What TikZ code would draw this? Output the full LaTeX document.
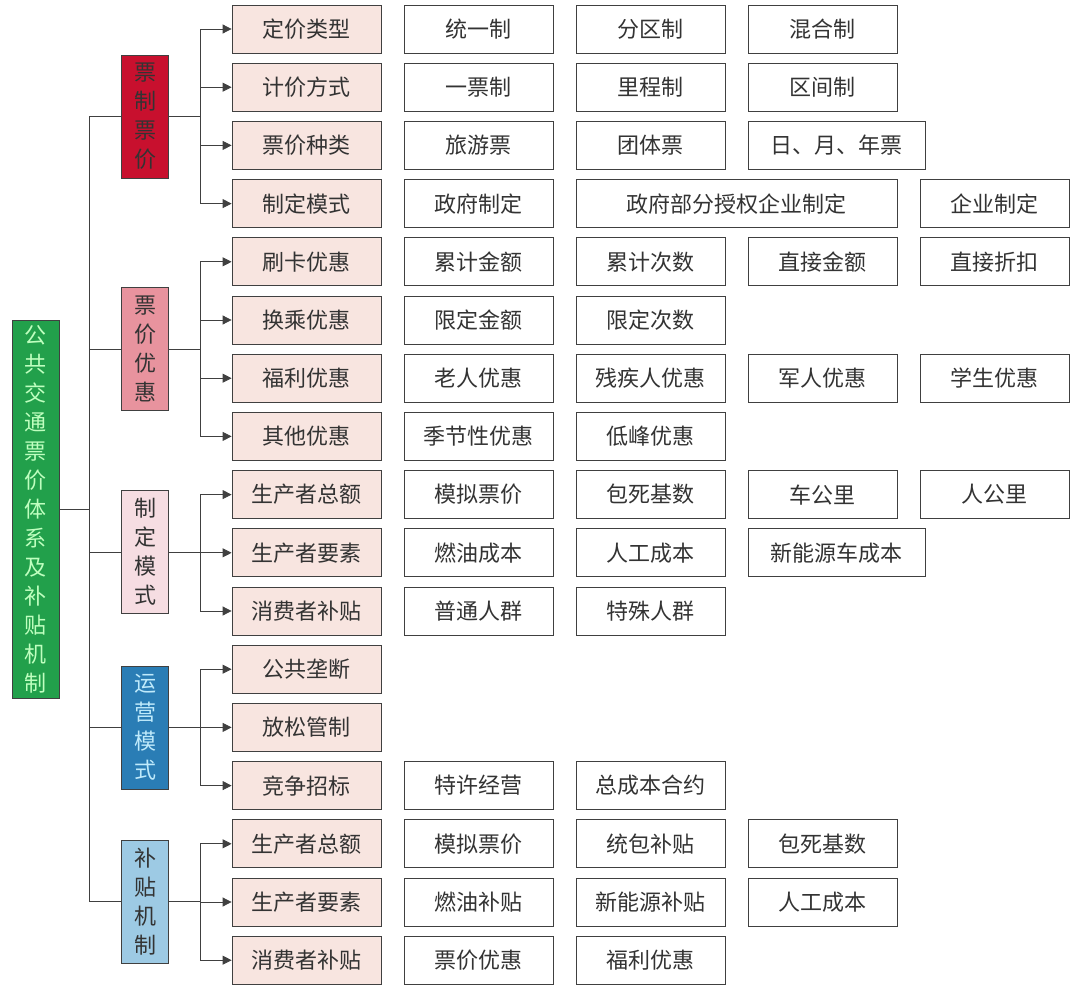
\documentclass[tikz,border=0pt]{standalone}
\usepackage{fontspec}
\setmainfont{Noto Sans CJK SC}
\usetikzlibrary{arrows.meta,positioning,calc}
\definecolor{cRoot}{HTML}{22A04B}
\definecolor{cRed}{HTML}{C8102E}
\definecolor{cPink}{HTML}{E8939E}
\definecolor{cLPink}{HTML}{F6DDE2}
\definecolor{cBlue}{HTML}{2A7DB5}
\definecolor{cLBlue}{HTML}{9DCAE4}
\definecolor{cItem}{HTML}{F8E5E0}
\tikzset{
  >=Triangle,
  every node/.append style={font=\fontsize{22}{29}\selectfont, text=black!80},
}
\begin{document}
\begin{tikzpicture}[
  x=1pt, y=-1pt,
  vbox/.style ={draw=black!75, line width=0.8pt, align=center, inner sep=0pt, minimum width=47pt},
  item/.style ={draw=black!75, fill=cItem, line width=0.8pt, minimum width=149pt, minimum height=48pt, inner sep=0pt},
  leaf/.style ={draw=black!75, fill=white, line width=0.8pt, minimum height=48pt, inner sep=0pt},
  link/.style ={draw=black!75, line width=0.8pt},
  arrow/.style={link, -{Triangle[length=9pt,width=9pt]}}
]
\useasboundingbox (0,0) rectangle (1080,993);

% root
\node[vbox, fill=cRoot, text=green!25, minimum height=378pt] (root) at (35.5,509)
  {公\\共\\交\\通\\票\\价\\体\\系\\及\\补\\贴\\机\\制};

% level one
\node[vbox, fill=cRed,   minimum height=123pt] (gPrice) at (145,116.5) {票\\制\\票\\价};
\node[vbox, fill=cPink,  minimum height=123pt] (gDisc)  at (145,349)   {票\\价\\优\\惠};
\node[vbox, fill=cLPink, minimum height=123pt] (gMode)  at (145,552)   {制\\定\\模\\式};
\node[vbox, fill=cBlue, text=cyan!25, minimum height=123pt] (gOper) at (145,727.5) {运\\营\\模\\式};
\node[vbox, fill=cLBlue, minimum height=123pt] (gSubs)  at (145,901.5) {补\\贴\\机\\制};

% level two
\foreach \i/\t in {0/定价类型, 1/计价方式, 2/票价种类, 3/制定模式,
                   4/刷卡优惠, 5/换乘优惠, 6/福利优惠, 7/其他优惠,
                   8/生产者总额, 9/生产者要素, 10/消费者补贴,
                   11/公共垄断, 12/放松管制, 13/竞争招标,
                   14/生产者总额, 15/生产者要素, 16/消费者补贴}{
  \node[item] (r\i) at (306.5,29+58.2*\i) {\t};
}

% level three
\foreach \i/\a/\b/\t [count=\n] in {
  0/404/553/统一制, 0/576/725/分区制, 0/748/897/混合制,
  1/404/553/一票制, 1/576/725/里程制, 1/748/897/区间制,
  2/404/553/旅游票, 2/576/725/团体票, 2/748/925/日、月、年票,
  3/404/553/政府制定, 3/576/897/政府部分授权企业制定, 3/920/1069/企业制定,
  4/404/553/累计金额, 4/576/725/累计次数, 4/748/897/直接金额, 4/920/1069/直接折扣,
  5/404/553/限定金额, 5/576/725/限定次数,
  6/404/553/老人优惠, 6/576/725/残疾人优惠, 6/748/897/军人优惠, 6/920/1069/学生优惠,
  7/404/553/季节性优惠, 7/576/725/低峰优惠,
  8/404/553/模拟票价, 8/576/725/包死基数, 8/748/897/车公里, 8/920/1069/人公里,
  9/404/553/燃油成本, 9/576/725/人工成本, 9/748/925/新能源车成本,
  10/404/553/普通人群, 10/576/725/特殊人群,
  13/404/553/特许经营, 13/576/725/总成本合约,
  14/404/553/模拟票价, 14/576/725/统包补贴, 14/748/897/包死基数,
  15/404/553/燃油补贴, 15/576/725/新能源补贴, 15/748/897/人工成本,
  16/404/553/票价优惠, 16/576/725/福利优惠}{
  \pgfmathsetmacro{\w}{\b-\a}
  \node[leaf, minimum width=\w pt] (c\n) at ({(\a+\b)/2},{29+58.2*\i}) {\t};
}

% trunk
\draw[link] (root.east) -- ++(30,0) coordinate (trunk);
\draw[link] (gPrice.west) -- ++(-32,0) |- (gSubs.west);
\foreach \g in {gDisc, gMode, gOper}{
  \draw[link] (\g.west) -- ++(-32,0);
}

% branches
\foreach \g/\list in {gPrice/{0,1,2,3}, gDisc/{4,5,6,7}, gMode/{8,9,10},
                      gOper/{11,12,13}, gSubs/{14,15,16}}{
  \foreach \i in \list{
    \draw[arrow] (\g.east) -- ++(31,0) |- (r\i.west);
  }
}
\end{tikzpicture}
\end{document}
